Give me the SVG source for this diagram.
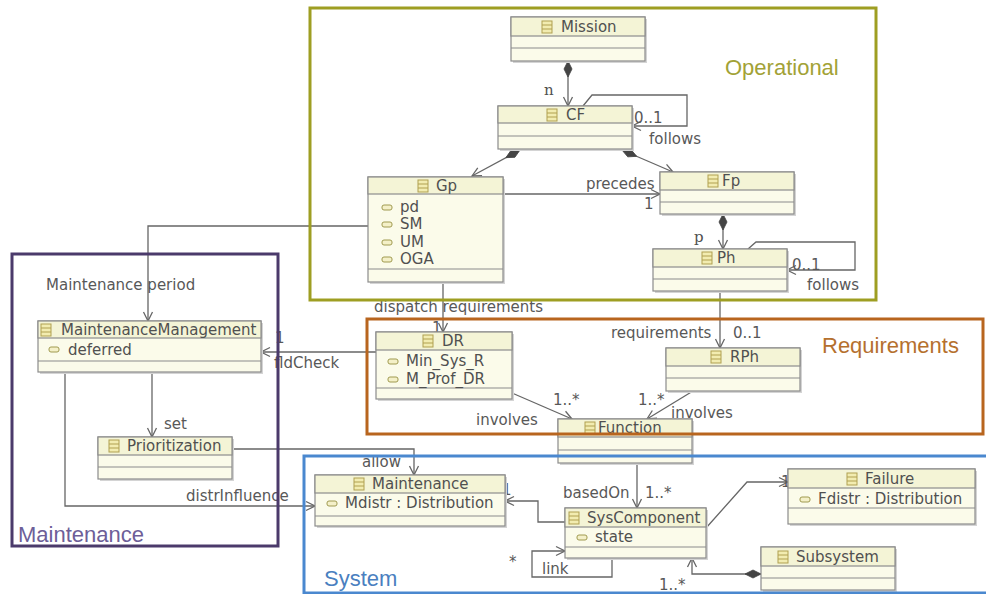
<svg xmlns="http://www.w3.org/2000/svg" xmlns:xlink="http://www.w3.org/1999/xlink" width="986" height="594" viewBox="0 0 986 594">
<style>
.t{font-family:"DejaVu Sans",sans-serif;font-size:15px;fill:#505050}
.s{font-family:"DejaVu Serif",serif;font-size:15px;fill:#505050}
.lb{font-family:"DejaVu Sans",sans-serif;font-size:15px;fill:#585858}
.fl{font-family:"Liberation Sans",Arial,sans-serif;font-size:22px}
.sh{fill:#d4d4d4}
.bd{fill:#fbfbea;stroke:#8c8c8c;stroke-width:1.2}
.hd{fill:#f4f4d6;stroke:#8c8c8c;stroke-width:1.2}
.sep{stroke:#8c8c8c;stroke-width:1.2}
.c{fill:none;stroke:#666;stroke-width:1.3}
.fr{fill:none;stroke-width:3}
</style>
<defs>
<marker id="arr" viewBox="-11 -6 12 12" refX="0" refY="0" markerWidth="12" markerHeight="12" markerUnits="userSpaceOnUse" orient="auto">
<path d="M-9,-4.5 L0,0 L-9,4.5" fill="none" stroke="#666" stroke-width="1.3"/>
</marker>
<marker id="dia" viewBox="0 -5 19 10" refX="0" refY="0" markerWidth="19" markerHeight="10" markerUnits="userSpaceOnUse" orient="auto">
<path d="M0,0 L8,-4 L16,0 L8,4 Z" fill="#444" stroke="#444" stroke-width="0.8"/>
</marker>
<g id="ci">
<rect x="0" y="0" width="10" height="12" fill="#f2ecb0" stroke="#b0a050" stroke-width="1"/>
<line x1="0" y1="4" x2="10" y2="4" stroke="#b0a050" stroke-width="1"/>
<line x1="0" y1="8" x2="10" y2="8" stroke="#b0a050" stroke-width="1"/>
</g>
<rect id="ai" x="0" y="0" width="10" height="5" rx="2" fill="#f4f0c8" stroke="#a09a50" stroke-width="1"/>
</defs>

<g id="connectors">
<path class="c" d="M568,61 L568,106" marker-start="url(#dia)" marker-end="url(#arr)"/>
<path class="c" d="M583,106 L592,95 L687,95 L687,126 L632,126" marker-end="url(#arr)"/>
<path class="c" d="M520,150 L472,176" marker-start="url(#dia)" marker-end="url(#arr)"/>
<path class="c" d="M622,150 L673,172" marker-start="url(#dia)" marker-end="url(#arr)"/>
<path class="c" d="M503,194 L660,194" marker-end="url(#arr)"/>
<path class="c" d="M723,214 L723,249" marker-start="url(#dia)" marker-end="url(#arr)"/>
<path class="c" d="M748,249 L756,242 L855,242 L855,270 L787,270" marker-end="url(#arr)"/>
<path class="c" d="M368,226 L148,226 L148,321" marker-end="url(#arr)"/>
<path class="c" d="M443,282 L443,332" marker-end="url(#arr)"/>
<path class="c" d="M720,291 L720,348" marker-end="url(#arr)"/>
<path class="c" d="M376,352 L261,352" marker-end="url(#arr)"/>
<path class="c" d="M512,393 L572,419" marker-end="url(#arr)"/>
<path class="c" d="M693,391 L647,419" marker-end="url(#arr)"/>
<path class="c" d="M152,372 L152,437" marker-end="url(#arr)"/>
<path class="c" d="M65,372 L65,506 L315,506" marker-end="url(#arr)"/>
<path class="c" d="M232,449 L414,449 L414,475" marker-end="url(#arr)"/>
<path class="c" d="M637,463 L637,508" marker-end="url(#arr)"/>
<path class="c" d="M565,522 L538,522 L538,501 L505,501" marker-end="url(#arr)"/>
<path class="c" d="M612,558 L612,577 L532,577 L532,551 L565,551" marker-end="url(#arr)"/>
<path class="c" d="M706,528 L747,482 L788,482" marker-end="url(#arr)"/>
<path class="c" d="M761,574 L692,574 L692,558" marker-start="url(#dia)" marker-end="url(#arr)"/>
<text class="s" x="544" y="95">n</text>
<text class="lb" x="634" y="123">0..1</text>
<text class="lb" x="649" y="144">follows</text>
<text class="lb" x="586" y="189">precedes</text>
<text class="lb" x="664" y="189">1</text>
<text class="lb" x="644" y="209">1</text>
<text class="s" x="694" y="242">p</text>
<text class="lb" x="792" y="270">0..1</text>
<text class="lb" x="807" y="290">follows</text>
<text class="lb" x="374" y="312">dispatch requirements</text>
<text class="lb" x="432" y="333" font-size="13">1</text>
<text class="lb" x="611" y="338">requirements</text>
<text class="lb" x="733" y="338">0..1</text>
<text class="lb" x="46" y="290">Maintenance period</text>
<text class="lb" x="275" y="343">1</text>
<text class="lb" x="274" y="368">fldCheck</text>
<text class="lb" x="164" y="429">set</text>
<text class="lb" x="186" y="501">distrInfluence</text>
<text class="lb" x="362" y="467">allow</text>
<text class="lb" x="502" y="495">1</text>
<text class="lb" x="563" y="498">basedOn</text>
<text class="lb" x="645" y="498">1..*</text>
<text class="lb" x="553" y="405">1..*</text>
<text class="lb" x="476" y="425">involves</text>
<text class="lb" x="638" y="405">1..*</text>
<text class="lb" x="671" y="418">involves</text>
<text class="lb" x="509" y="567">*</text>
<text class="lb" x="542" y="574">link</text>
<text class="lb" x="659" y="590">1..*</text>
<text class="lb" x="781" y="487">1</text>
</g>

<g id="Mission">
<rect class="sh" x="513" y="19" width="134" height="44"/>
<rect class="bd" x="511" y="17" width="134" height="44"/>
<rect class="hd" x="511" y="17" width="134" height="19"/>
<line class="sep" x1="511" y1="48" x2="645" y2="48"/>
<use href="#ci" x="542" y="21"/>
<text class="t" x="561" y="32">Mission</text>
</g>

<g id="CF">
<rect class="sh" x="500" y="108" width="134" height="43"/>
<rect class="bd" x="498" y="106" width="134" height="43"/>
<rect class="hd" x="498" y="106" width="134" height="17"/>
<line class="sep" x1="498" y1="136" x2="632" y2="136"/>
<use href="#ci" x="547" y="109"/>
<text class="t" x="566" y="120">CF</text>
</g>

<g id="Gp">
<rect class="sh" x="370" y="179" width="135" height="105"/>
<rect class="bd" x="368" y="177" width="135" height="105"/>
<rect class="hd" x="368" y="177" width="135" height="17"/>
<line class="sep" x1="368" y1="269" x2="503" y2="269"/>
<use href="#ci" x="418" y="180"/>
<text class="t" x="436" y="191">Gp</text>
<use href="#ai" x="382" y="205"/><text class="t" x="400" y="212">pd</text>
<use href="#ai" x="382" y="222"/><text class="t" x="400" y="229">SM</text>
<use href="#ai" x="382" y="240"/><text class="t" x="400" y="247">UM</text>
<use href="#ai" x="382" y="257"/><text class="t" x="400" y="264">OGA</text>
</g>

<g id="Fp">
<rect class="sh" x="662" y="174" width="134" height="42"/>
<rect class="bd" x="660" y="172" width="134" height="42"/>
<rect class="hd" x="660" y="172" width="134" height="18"/>
<line class="sep" x1="660" y1="202" x2="794" y2="202"/>
<use href="#ci" x="708" y="175"/>
<text class="t" x="722" y="186">Fp</text>
</g>

<g id="Ph">
<rect class="sh" x="655" y="251" width="134" height="42"/>
<rect class="bd" x="653" y="249" width="134" height="42"/>
<rect class="hd" x="653" y="249" width="134" height="18"/>
<line class="sep" x1="653" y1="279" x2="787" y2="279"/>
<use href="#ci" x="702" y="252"/>
<text class="t" x="717" y="263">Ph</text>
</g>

<g id="DR">
<rect class="sh" x="378" y="334" width="136" height="67"/>
<rect class="bd" x="376" y="332" width="136" height="67"/>
<rect class="hd" x="376" y="332" width="136" height="18"/>
<line class="sep" x1="376" y1="388" x2="512" y2="388"/>
<use href="#ci" x="423" y="335"/>
<text class="t" x="442" y="346">DR</text>
<use href="#ai" x="388" y="359"/><text class="t" x="406" y="366">Min_Sys_R</text>
<use href="#ai" x="388" y="377"/><text class="t" x="406" y="384">M_Prof_DR</text>
</g>

<g id="RPh">
<rect class="sh" x="668" y="350" width="134" height="43"/>
<rect class="bd" x="666" y="348" width="134" height="43"/>
<rect class="hd" x="666" y="348" width="134" height="18"/>
<line class="sep" x1="666" y1="378" x2="800" y2="378"/>
<use href="#ci" x="711" y="351"/>
<text class="t" x="730" y="362">RPh</text>
</g>

<g id="Function">
<rect class="sh" x="560" y="421" width="134" height="44"/>
<rect class="bd" x="558" y="419" width="134" height="44"/>
<rect class="hd" x="558" y="419" width="134" height="18"/>
<line class="sep" x1="558" y1="450" x2="692" y2="450"/>
<use href="#ci" x="585" y="422"/>
<text class="t" x="598" y="433">Function</text>
</g>

<g id="MaintenanceManagement">
<rect class="sh" x="40" y="323" width="223" height="51"/>
<rect class="bd" x="38" y="321" width="223" height="51"/>
<rect class="hd" x="38" y="321" width="223" height="17"/>
<line class="sep" x1="38" y1="361" x2="261" y2="361"/>
<use href="#ci" x="41" y="324"/>
<text class="t" x="61" y="335">MaintenanceManagement</text>
<use href="#ai" x="49" y="347"/><text class="t" x="68" y="355">deferred</text>
</g>

<g id="Prioritization">
<rect class="sh" x="100" y="439" width="134" height="42"/>
<rect class="bd" x="98" y="437" width="134" height="42"/>
<rect class="hd" x="98" y="437" width="134" height="18"/>
<line class="sep" x1="98" y1="467" x2="232" y2="467"/>
<use href="#ci" x="109" y="440"/>
<text class="t" x="127" y="451">Prioritization</text>
</g>

<g id="Maintenance">
<rect class="sh" x="317" y="477" width="190" height="51"/>
<rect class="bd" x="315" y="475" width="190" height="51"/>
<rect class="hd" x="315" y="475" width="190" height="18"/>
<line class="sep" x1="315" y1="516" x2="505" y2="516"/>
<use href="#ci" x="354" y="478"/>
<text class="t" x="372" y="489">Maintenance</text>
<use href="#ai" x="327" y="501"/><text class="t" x="345" y="508">Mdistr : Distribution</text>
</g>

<g id="SysComponent">
<rect class="sh" x="567" y="510" width="141" height="50"/>
<rect class="bd" x="565" y="508" width="141" height="50"/>
<rect class="hd" x="565" y="508" width="141" height="19"/>
<line class="sep" x1="565" y1="547" x2="706" y2="547"/>
<use href="#ci" x="569" y="512"/>
<text class="t" x="587" y="523">SysComponent</text>
<use href="#ai" x="577" y="535"/><text class="t" x="595" y="542">state</text>
</g>

<g id="Failure">
<rect class="sh" x="790" y="471" width="187" height="55"/>
<rect class="bd" x="788" y="469" width="187" height="55"/>
<rect class="hd" x="788" y="469" width="187" height="19"/>
<line class="sep" x1="788" y1="508" x2="975" y2="508"/>
<use href="#ci" x="847" y="473"/>
<text class="t" x="865" y="484">Failure</text>
<use href="#ai" x="800" y="497"/><text class="t" x="818" y="504">Fdistr : Distribution</text>
</g>

<g id="Subsystem">
<rect class="sh" x="763" y="549" width="134" height="43"/>
<rect class="bd" x="761" y="547" width="134" height="43"/>
<rect class="hd" x="761" y="547" width="134" height="19"/>
<line class="sep" x1="761" y1="578" x2="895" y2="578"/>
<use href="#ci" x="778" y="551"/>
<text class="t" x="796" y="562">Subsystem</text>
</g>

<g id="frames">
<rect class="fr" x="310" y="8" width="566" height="292" stroke="#9e9e22"/>
<text class="fl" x="725" y="75" fill="#a2a236">Operational</text>
<rect class="fr" x="367" y="319" width="616" height="115" stroke="#b8651e"/>
<text class="fl" x="822" y="353" fill="#b5702e">Requirements</text>
<rect class="fr" x="12" y="254" width="266" height="292" stroke="#4b3a6b"/>
<text class="fl" x="18" y="542" fill="#6d5e98">Maintenance</text>
<path class="fr" d="M304,594 L304,456 L990,456" stroke="#4a88cf" stroke-width="2.5"/>
<path class="fr" d="M304,593 L990,593" stroke="#4a88cf" stroke-width="2"/>
<text class="fl" x="324" y="586" fill="#4a7fc0">System</text>
</g>
</svg>
